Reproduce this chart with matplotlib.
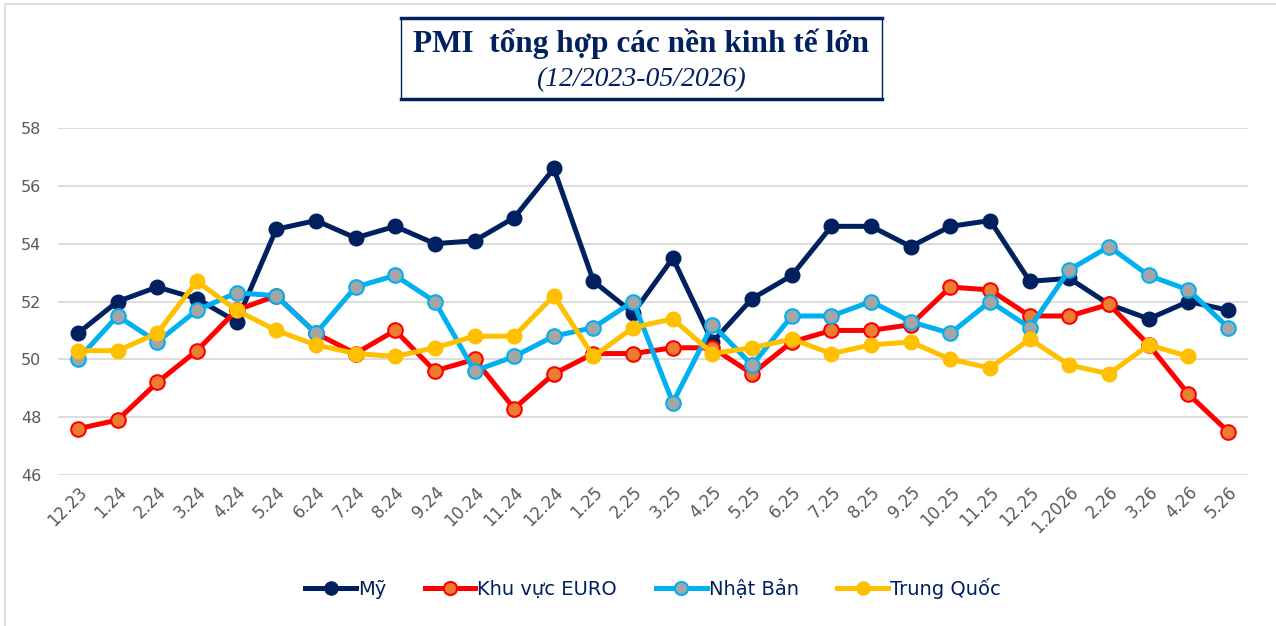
import numpy as np
import matplotlib.pyplot as plt
from matplotlib.patches import Rectangle
from matplotlib.lines import Line2D

months = ["12.23", "1.24", "2.24", "3.24", "4.24", "5.24", "6.24", "7.24", "8.24", "9.24",
          "10.24", "11.24", "12.24", "1.25", "2.25", "3.25", "4.25", "5.25", "6.25", "7.25",
          "8.25", "9.25", "10.25", "11.25", "12.25", "1.2026", "2.26", "3.26", "4.26", "5.26"]

my = [50.9, 52.0, 52.5, 52.1, 51.3, 54.5, 54.8, 54.2, 54.6, 54.0,
      54.1, 54.9, 56.6, 52.7, 51.6, 53.5, 50.6, 52.1, 52.9, 54.6,
      54.6, 53.9, 54.6, 54.8, 52.7, 52.8, 51.9, 51.4, 52.0, 51.7]
euro = [47.6, 47.9, 49.2, 50.3, 51.7, 52.2, 50.9, 50.2, 51.0, 49.6,
        50.0, 48.3, 49.5, 50.2, 50.2, 50.4, 50.4, 49.5, 50.6, 51.0,
        51.0, 51.2, 52.5, 52.4, 51.5, 51.5, 51.9, 50.5, 48.8, 47.5]
nhat = [50.0, 51.5, 50.6, 51.7, 52.3, 52.2, 50.9, 52.5, 52.9, 52.0,
        49.6, 50.1, 50.8, 51.1, 52.0, 48.5, 51.2, 49.8, 51.5, 51.5,
        52.0, 51.3, 50.9, 52.0, 51.1, 53.1, 53.9, 52.9, 52.4, 51.1]
trung = [50.3, 50.3, 50.9, 52.7, 51.7, 51.0, 50.5, 50.2, 50.1, 50.4,
         50.8, 50.8, 52.2, 50.1, 51.1, 51.4, 50.2, 50.4, 50.7, 50.2,
         50.5, 50.6, 50.0, 49.7, 50.7, 49.8, 49.5, 50.5, 50.1]

fig = plt.figure(figsize=(12.76, 6.26), dpi=100)
ax = fig.add_axes([0.0455, 0.2412, 0.9325, 0.5543])

x = np.arange(len(months))
lw, ms = 3.6, 10.5
ax.plot(x, my, '-o', color='#002060', lw=lw, ms=ms, mfc='#002060', mec='#002060', label='Mỹ')
ax.plot(x, euro, '-o', color='#FF0000', lw=lw, ms=ms, mfc='#ED7D31', mec='#FF0000', mew=1.5, label='Khu vực EURO')
ax.plot(x, nhat, '-o', color='#00B0F0', lw=lw, ms=ms, mfc='#A5A5A5', mec='#00B0F0', mew=1.5, label='Nhật Bản')
ax.plot(x[:len(trung)], trung, '-o', color='#FFC000', lw=lw, ms=ms, mfc='#FFC000', mec='#FFC000', label='Trung Quốc')

ax.set_xlim(-0.5, len(months) - 0.5)
ax.set_ylim(46, 58)
ax.set_yticks(np.arange(46, 59, 2))
ax.yaxis.grid(True, color='#D9D9D9', lw=1.3)
ax.set_axisbelow(True)
for s in ax.spines.values():
    s.set_visible(False)
ax.tick_params(length=0)
ax.tick_params(axis='y', labelsize=11.5, labelcolor='#595959', pad=12)
ax.set_xticks(x)
ax.set_xticklabels(months, rotation=45, ha='right', rotation_mode='anchor',
                   fontsize=12, color='#595959')
ax.tick_params(axis='x', pad=6)

leg = ax.legend(loc='upper center', bbox_to_anchor=(0.5, -0.245), ncol=4, frameon=False,
                fontsize=14, handlelength=2.6, columnspacing=2.0, handletextpad=0.1,
                markerscale=0.9)
for t in leg.get_texts():
    t.set_color('#002060')

# title box
x0, x1 = 401 / 1276, 882 / 1276
y0, y1 = 1 - 99 / 626, 1 - 18 / 626
fig.patches.append(Rectangle((x0, y0), x1 - x0, y1 - y0, transform=fig.transFigure,
                             fill=False, edgecolor='#002060', lw=1.0))
fig.lines.append(Line2D([x0, x1], [y1, y1], transform=fig.transFigure, color='#002060', lw=2.5))
fig.lines.append(Line2D([x0, x1], [y0, y0], transform=fig.transFigure, color='#002060', lw=2.5))
fig.text(641 / 1276, 1 - 44 / 626, 'PMI  tổng hợp các nền kinh tế lớn', ha='center', va='center',
         fontsize=22.5, fontweight='bold', family='Liberation Serif', color='#002060')
fig.text(641 / 1276, 1 - 80 / 626, '(12/2023-05/2026)', ha='center', va='center',
         fontsize=20, style='italic', family='Liberation Serif', color='#002060')

# outer chart border
fig.patches.append(Rectangle((5 / 1276, -0.01), 1.02, 1 - 4 / 626 + 0.01,
                             transform=fig.transFigure, fill=False,
                             edgecolor='#D9D9D9', lw=1.2))

fig.savefig('out.png', dpi=100)
